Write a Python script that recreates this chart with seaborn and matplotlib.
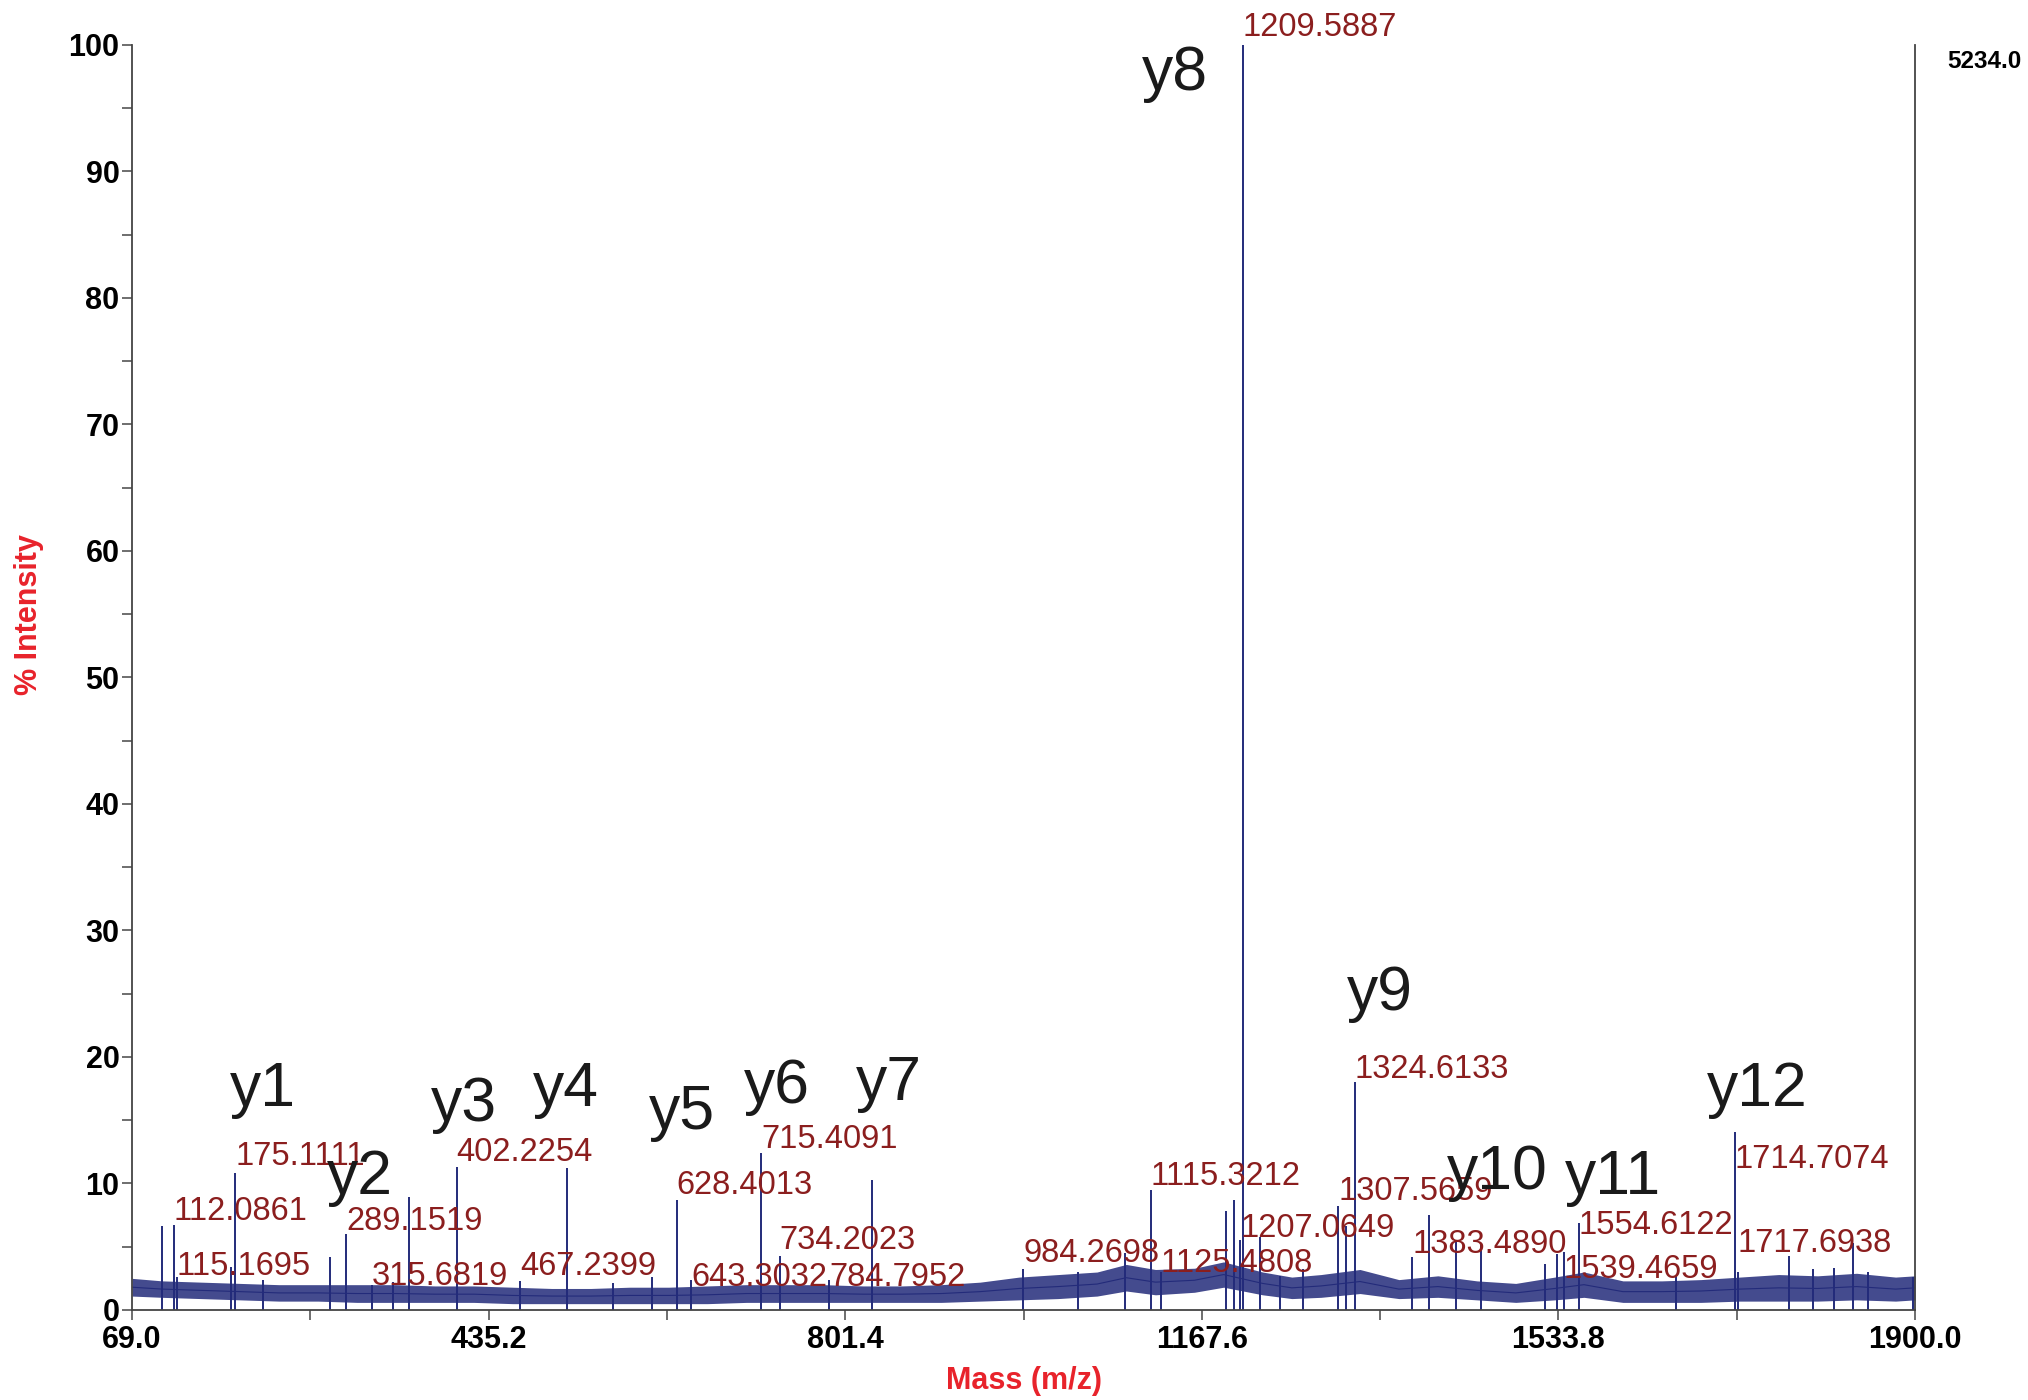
import numpy as np
import pandas as pd
import matplotlib
matplotlib.use("Agg")
import matplotlib.pyplot as plt
import seaborn as sns

# ----------------------
# Data
# ----------------------
# peak centroids (m/z) and their height in % of the base peak
peak_mz = [99.5, 112.09, 115.17, 171.0, 175.11, 203.5, 272.0, 289.15, 315.68, 337.0,
           353.8, 402.23, 467.24, 515.4, 563.0, 602.7, 628.40, 643.30, 715.41, 734.20,
           784.80, 828.6, 984.27, 1040.0, 1089.0, 1115.32, 1125.48, 1192.5, 1201.0,
           1207.06, 1209.59, 1227.0, 1248.0, 1271.0, 1307.57, 1316.0, 1324.61, 1383.49,
           1401.2, 1429.0, 1454.0, 1520.0, 1532.0, 1539.47, 1554.61, 1655.0, 1714.71,
           1717.69, 1771.0, 1795.0, 1817.0, 1836.0, 1852.0, 1898.0]
peak_int = [6.6, 6.7, 2.6, 3.4, 10.8, 2.4, 4.2, 6.0, 2.0, 2.2,
            8.9, 11.3, 2.3, 11.2, 2.1, 2.6, 8.7, 2.4, 12.4, 4.3,
            2.4, 10.3, 3.2, 3.0, 4.5, 9.5, 3.0, 7.8, 8.7,
            5.5, 100.0, 5.8, 2.7, 3.2, 8.2, 6.6, 18.0, 4.2,
            7.5, 5.5, 5.3, 3.6, 4.4, 4.6, 6.9, 2.7, 14.1,
            3.0, 4.3, 3.2, 3.3, 5.3, 3.0, 2.6]

# noise floor envelope (lower / upper edge, % intensity)
noise_mz = [69, 100, 140, 180, 220, 260, 300, 340, 380, 420, 460, 500, 540, 580, 620,
            660, 700, 740, 780, 820, 860, 900, 940, 980, 1020, 1060, 1090, 1120, 1160,
            1190, 1230, 1260, 1290, 1330, 1370, 1410, 1450, 1490, 1530, 1560, 1600,
            1640, 1680, 1720, 1760, 1800, 1840, 1880, 1900]
noise_lo = [1.1, 1.0, 0.9, 0.8, 0.7, 0.7, 0.6, 0.6, 0.6, 0.6, 0.5, 0.5, 0.5, 0.5, 0.5,
            0.5, 0.6, 0.6, 0.6, 0.6, 0.6, 0.6, 0.7, 0.8, 0.9, 1.1, 1.5, 1.2, 1.4,
            1.8, 1.2, 0.9, 1.0, 1.3, 0.9, 1.0, 0.8, 0.6, 0.8, 1.0, 0.6,
            0.6, 0.6, 0.7, 0.7, 0.7, 0.8, 0.7, 0.8]
noise_hi = [2.5, 2.3, 2.2, 2.1, 2.0, 2.0, 2.0, 2.0, 1.9, 1.9, 1.8, 1.7, 1.7, 1.8, 1.8,
            1.9, 2.0, 2.0, 2.0, 1.9, 1.9, 2.0, 2.2, 2.6, 2.8, 3.0, 3.6, 3.2, 3.3,
            3.8, 3.0, 2.6, 2.8, 3.2, 2.4, 2.7, 2.3, 2.1, 2.6, 3.0, 2.3,
            2.3, 2.4, 2.6, 2.8, 2.7, 2.9, 2.6, 2.7]

# m/z labels printed by the software and the height where each one sits
mz_labels = ["1209.5887", "175.1111", "112.0861", "115.1695", "289.1519", "315.6819",
             "402.2254", "467.2399", "628.4013", "643.3032", "715.4091", "734.2023",
             "784.7952", "984.2698", "1115.3212", "1125.4808", "1207.0649",
             "1307.5659", "1324.6133", "1383.4890", "1554.6122", "1539.4659",
             "1714.7074", "1717.6938"]
mz_label_y = [100.7, 11.5, 7.1, 2.8, 6.3, 2.0,
              11.8, 2.8, 9.2, 1.9, 12.8, 4.8,
              1.9, 3.8, 9.9, 3.0, 5.8,
              8.7, 18.3, 4.5, 6.0, 2.5,
              11.2, 4.6]

# y-ion assignments
ion_labels = ["y1", "y2", "y3", "y4", "y5", "y6", "y7", "y8", "y9", "y10", "y11", "y12"]
ion_x = [203.8, 303.4, 409.7, 514.6, 634.0, 731.0, 846.7, 1140.0, 1350.0, 1471.0, 1590.0, 1738.0]
ion_y = [16.1, 9.2, 14.9, 16.1, 14.3, 16.4, 16.6, 96.4, 23.7, 9.6, 9.2, 16.1]

x_ticks = [69.0, 435.2, 801.4, 1167.6, 1533.8, 1900.0]
base_counts = "5234.0"


def main():
    sns.set_theme(style="ticks")
    plt.rcParams["font.family"] = ["Liberation Sans", "DejaVu Sans"]

    fig = plt.figure(figsize=(20.28, 14), dpi=100)
    ax = fig.add_axes([0.0651, 0.0643, 0.8792, 0.9036])

    navy = "#232b7a"

    # noise floor
    noise = pd.DataFrame({"mz": noise_mz, "lo": noise_lo, "hi": noise_hi})
    noise["mid"] = (noise["lo"] + noise["hi"]) / 2
    ax.fill_between(noise["mz"], noise["lo"], noise["hi"], color=navy, alpha=0.85,
                    linewidth=0)
    sns.lineplot(data=noise, x="mz", y="mid", ax=ax, color=navy, linewidth=0.8)

    # peaks as sticks
    ax.vlines(peak_mz, 0, peak_int, color=navy, linewidth=1.4)

    # m/z labels
    for lab, yy in zip(mz_labels, mz_label_y):
        ax.text(float(lab), yy, lab, color="#8b1e1e", fontsize=23.5,
                ha="left", va="baseline", clip_on=False)

    # ion labels
    for lab, xx, yy in zip(ion_labels, ion_x, ion_y):
        ax.text(xx, yy, lab, color="#1a1a1a", fontsize=45,
                ha="center", va="baseline")

    ax.set_xlim(x_ticks[0], x_ticks[-1])
    ax.set_ylim(0, 100)
    ax.set_xticks(x_ticks)
    ax.set_xticklabels([f"{t:.1f}" for t in x_ticks])
    ax.set_xticks([(a + b) / 2 for a, b in zip(x_ticks[:-1], x_ticks[1:])], minor=True)
    ax.set_yticks(range(0, 101, 10))
    ax.set_yticks(range(5, 100, 10), minor=True)

    for lbl in ax.get_xticklabels() + ax.get_yticklabels():
        lbl.set_fontweight("bold")
        lbl.set_fontsize(22)
        lbl.set_color("black")
    ax.tick_params(axis="both", which="both", direction="out", length=7,
                   width=1.2, color="#555555", pad=4)
    ax.tick_params(axis="y", which="both", pad=2)

    ax.spines["top"].set_visible(False)
    for side in ("left", "right", "bottom"):
        ax.spines[side].set_color("#444444")
        ax.spines[side].set_linewidth(1.3)

    ax.set_xlabel("Mass (m/z)", color="#e8232b", fontsize=22, fontweight="bold",
                  va="center", ha="center")
    ax.set_ylabel("% Intensity", color="#e8232b", fontsize=22, fontweight="bold",
                  va="center", ha="center")
    ax.xaxis.set_label_coords(0.5, -0.056)
    ax.yaxis.set_label_coords(-0.058, 0.55)

    fig.text(2022 / 2028, 1 - 62 / 1400, base_counts, fontsize=17.5, fontweight="bold",
             ha="right", va="center", color="black")

    fig.savefig("out.png", dpi=100)


if __name__ == "__main__":
    main()
